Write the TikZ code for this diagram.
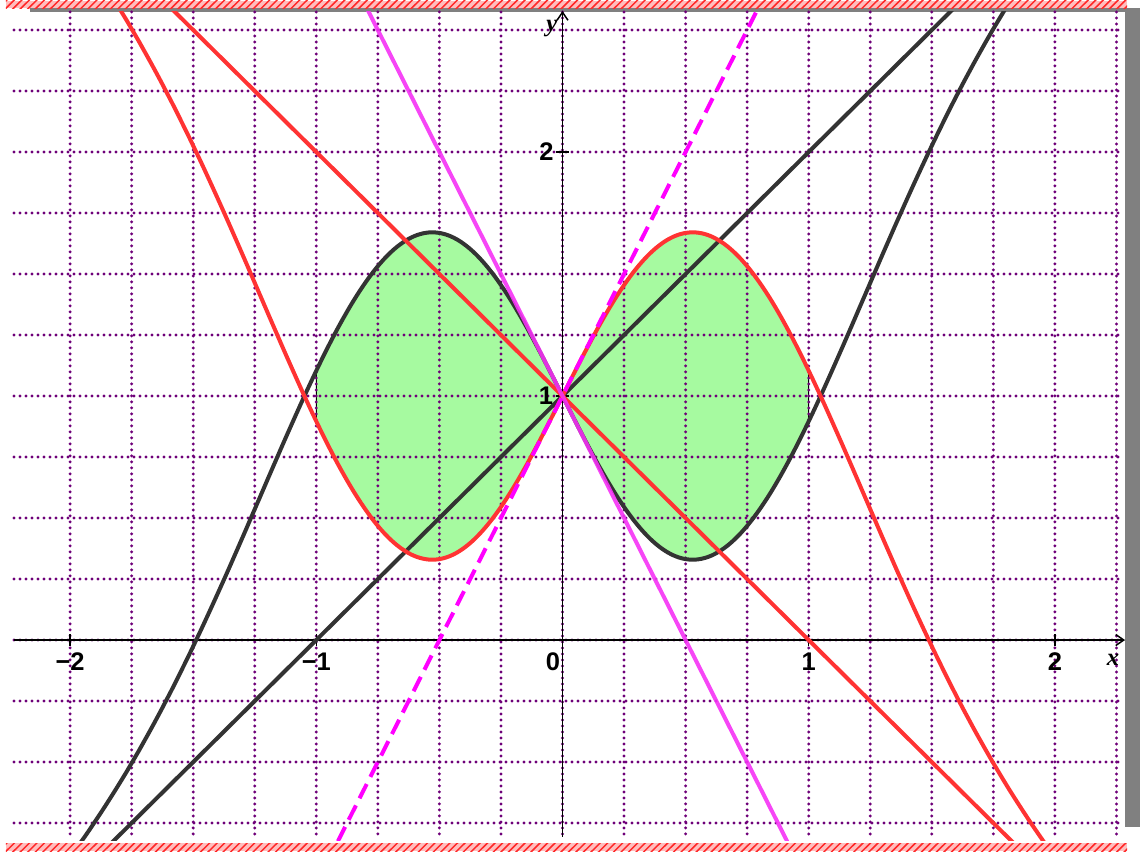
\documentclass[tikz,border=0pt]{standalone}
\usepackage{fontspec}
\setmainfont{Liberation Serif}
\setsansfont{Liberation Sans}
\usetikzlibrary{arrows.meta}
\definecolor{gridpurple}{RGB}{110,0,120}
\definecolor{curvered}{RGB}{255,51,51}
\definecolor{curveblack}{RGB}{51,51,51}
\definecolor{lobegreen}{RGB}{166,250,160}
\definecolor{magline}{RGB}{245,50,245}
\definecolor{magdash}{RGB}{255,0,255}
\definecolor{shadowgray}{RGB}{128,128,128}
\definecolor{hatchpink}{RGB}{255,190,190}
\definecolor{hatchred}{RGB}{255,40,40}
\begin{document}
\begin{tikzpicture}[x=4.924cm,y=4.88cm,
  gridline/.style={gridpurple, line width=0.065cm, line cap=round, dash pattern=on 0cm off 0.12cm},
  curve/.style={line width=0.08cm, line join=round},
  axisline/.style={line width=0.03cm, black},
  ticklab/.style={font=\sffamily\bfseries\fontsize{14.5}{16}\selectfont, inner sep=0pt},
  axlab/.style={font=\bfseries\itshape\fontsize{14}{16}\selectfont, inner sep=0pt},
  hatchline/.style={hatchred, line width=0.03cm},
]
\useasboundingbox (-2.2847,-0.8770) rectangle (2.3456,2.6230);
% shadow frame
\fill[shadowgray] (-2.1629,2.5738) rectangle (2.3456,2.5902);
\fill[shadowgray] (2.2847,-0.7664) rectangle (2.3456,2.5902);
% hatched bands
\begin{scope}
  \clip (-2.2603,2.5902) rectangle (2.2929,2.6189);
  \fill[hatchpink] (-2.2603,2.5902) rectangle (2.2929,2.6189);
  \foreach \i in {0,...,155} \draw[hatchline] ({-2.30+\i*0.0305},2.58) -- ++(0.045,0.045);
\end{scope}
\begin{scope}
  \clip (-2.2603,-0.8648) rectangle (2.2929,-0.8320);
  \fill[hatchpink] (-2.2603,-0.8648) rectangle (2.2929,-0.8320);
  \foreach \i in {0,...,155} \draw[hatchline] ({-2.30+\i*0.0305},-0.875) -- ++(0.05,0.05);
\end{scope}
% green region
\fill[lobegreen, draw=black, line width=0.02cm]
  plot[domain=-1:1, samples=120, smooth] (\x,{1+(\x)-3*(\x)*exp(-(\x)*(\x))})
  -- plot[domain=1:-1, samples=120, smooth] (\x,{1-(\x)+3*(\x)*exp(-(\x)*(\x))})
  -- cycle;
% grid
\foreach \i in {-8,...,9} \draw[gridline] ({\i/4},2.574) -- ({\i/4},-0.807);
\foreach \j in {-3,...,10} \draw[gridline] (-2.228,{\j/4}) -- (2.277,{\j/4});
% axes
\coordinate (xs) at (-2.228,0);
\coordinate (xe) at (2.285,0);
\coordinate (ys) at (0,-0.807);
\coordinate (ye) at (0,2.578);
\draw[axisline, -{Straight Barb[length=0.16cm, width=0.22cm]}] (xs) -- (xe);
\draw[axisline, -{Straight Barb[length=0.16cm, width=0.22cm]}] (ys) -- (ye);
\foreach \t in {-2,-1,1,2} \draw[axisline] (\t,-0.025) -- (\t,0.025);
\foreach \t in {1,2} \draw[axisline] (-0.025,\t) -- (0.025,\t);
% curves
\begin{scope}
  \clip (-2.3,-0.822) rectangle (2.3,2.574);
  \draw[curve, curveblack] plot[domain=-2.3:2.3, samples=200, smooth] (\x,{1+(\x)-3*(\x)*exp(-(\x)*(\x))});
  \draw[curve, curveblack] (-2.3,-1.3) -- (2.3,3.3);
  \draw[curve, curvered] plot[domain=-2.3:2.3, samples=200, smooth] (\x,{1-(\x)+3*(\x)*exp(-(\x)*(\x))});
  \draw[curve, curvered] (-2.3,3.3) -- (2.3,-1.3);
  \draw[curve, magline, opacity=0.9] (-0.9,2.8) -- (1.0,-1.0);
  \draw[curve, magdash, dash pattern=on 0.32cm off 0.16cm] (-1.0,-1.0) -- (0.9,2.8);
\end{scope}
% labels
\node[ticklab] (lm2) at (-2,-0.090) {−2};
\node[ticklab] (lm1) at (-1,-0.090) {−1};
\node[ticklab] (l0) at (-0.0386,-0.090) {0};
\node[ticklab] (l1) at (1,-0.090) {1};
\node[ticklab] (l2) at (2,-0.090) {2};
\node[ticklab] (ly1) at (-0.067,1.0) {1};
\node[ticklab] (ly2) at (-0.065,2.0) {2};
\node[axlab] (lx) at (2.236,-0.082) {x};
\node[axlab] (lyy) at (-0.043,2.505) {y};
\end{tikzpicture}
\end{document}
